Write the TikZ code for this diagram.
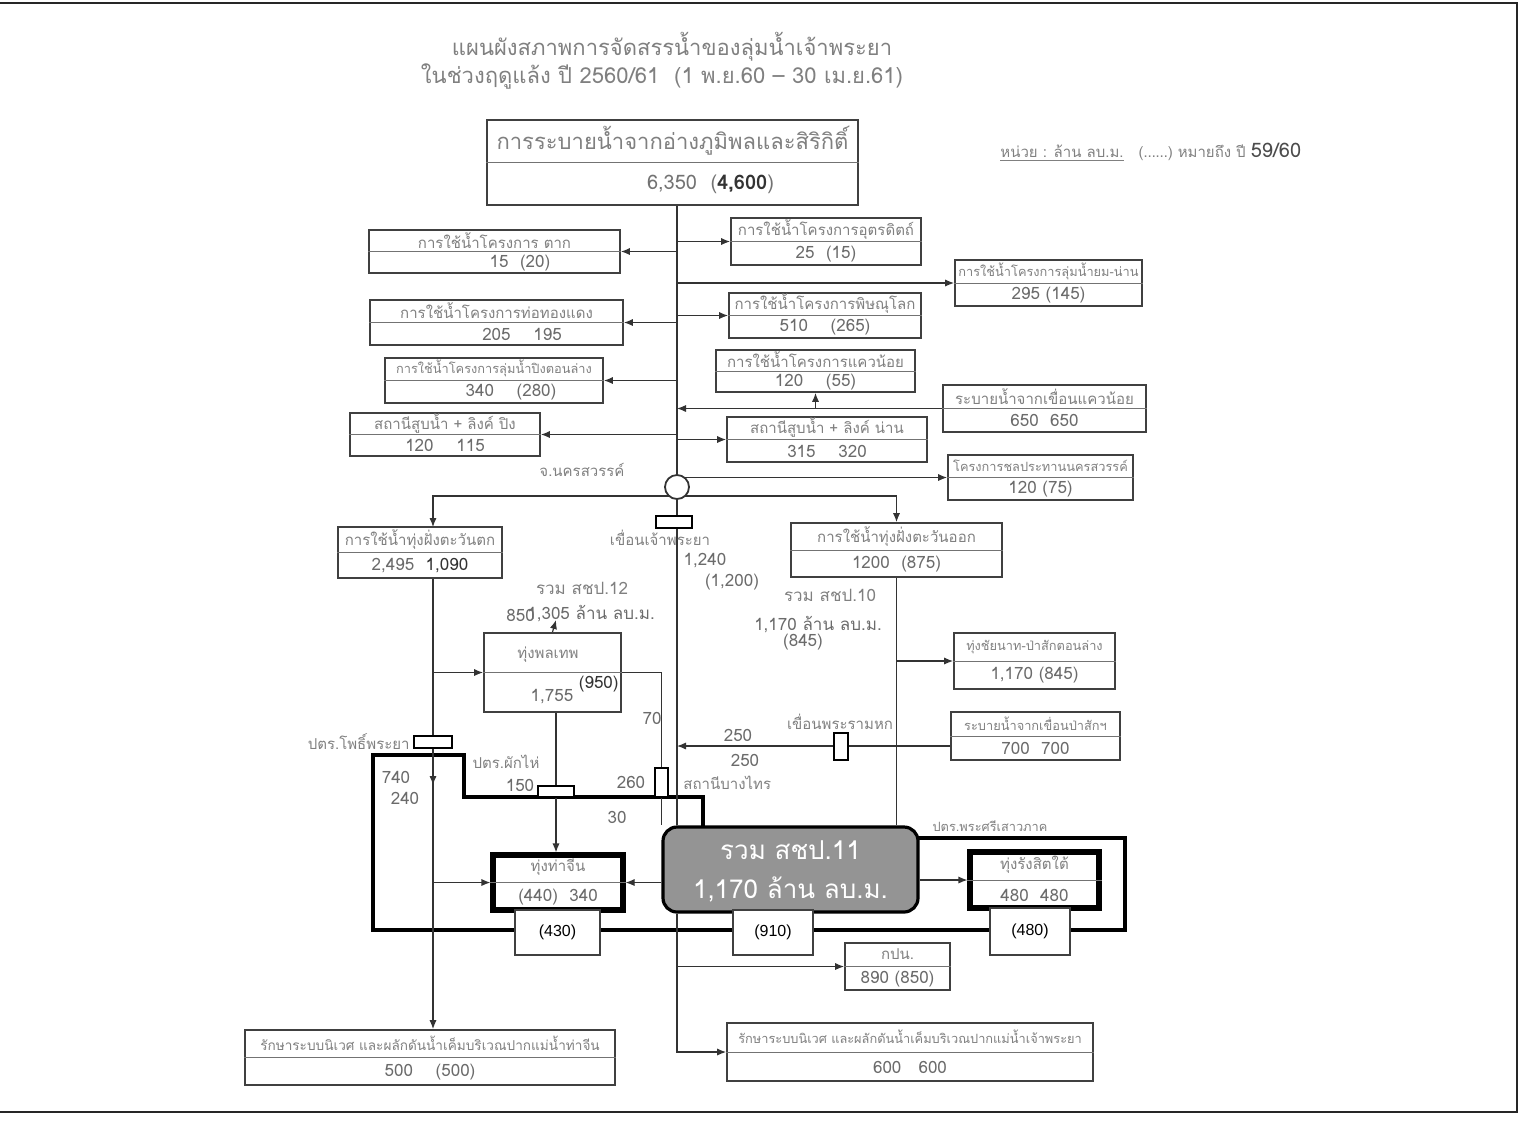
\documentclass[tikz,border=0pt]{standalone}
\usepackage{fontspec}
\setmainfont{Loma}[Script=Thai]
\newfontfamily\latf{Liberation Sans}
\usetikzlibrary{arrows.meta,calc,backgrounds}
\newcommand\smt{\fontsize{6.4}{7}\selectfont}
\tikzset{
  tb/.style={draw=black!75, line width=0.9pt, fill=white, inner sep=0pt, rectangle},
  tbk/.style={draw=black, line width=2.6pt, fill=white, inner sep=0pt, rectangle},
  sep/.style={draw=black!55, line width=0.5pt},
  ttl/.style={font=\fontsize{7.5}{8}\selectfont, text=black!50, inner sep=0pt},
  val/.style={font=\fontsize{8.5}{9}\selectfont, text=black!58, inner sep=0pt},
  lbl/.style={font=\fontsize{7.5}{8}\selectfont, text=black!50, inner sep=0pt},
  num/.style={font=\fontsize{8.5}{9}\selectfont, text=black!58, inner sep=0pt},
  ln/.style={draw=black!80, line width=0.6pt},
  arr/.style={ln, -{Latex[length=4.5pt,width=3.6pt]}},
  gate/.style={draw=black, line width=1pt, fill=white, inner sep=0pt, rectangle},
  pbox/.style={draw=black!75, line width=0.8pt, fill=white, inner sep=0pt, font=\latf\fontsize{8}{9}\selectfont},
  thickline/.style={draw=black, line width=2.4pt, line join=miter},
}
% two-part box: [opts]{name}{x,y}{w}{h}{title}{value}
\newcommand\tbox[7][tb]{%
  \node[#1, minimum width=#4*0.5pt, minimum height=#5*0.5pt] (#2) at (#3) {};
  \draw[sep] (#2.west) -- (#2.east);
  \node[ttl] (#2-t) at ($(#2.center)!0.5!(#2.north)$) {#6};
  \node[val] (#2-v) at ($(#2.center)!0.5!(#2.south)$) {#7};}
\begin{document}
\begin{tikzpicture}[x=0.5pt,y=-0.5pt]
\useasboundingbox (0,0) rectangle (1525,1142);
% page frame
\draw[black!85, line width=1pt] (0,3) -- (1517,3) -- (1517,1112) -- (0,1112);

% titles
\node[font=\fontsize{11}{12}\selectfont, text=black!50] (title1) at (672,47) {แผนผังสภาพการจัดสรรน้ำของลุ่มน้ำเจ้าพระยา};
\node[font=\fontsize{11}{12}\selectfont, text=black!50] (title2) at (662,76) {ในช่วงฤดูแล้ง ปี 2560/61 \ (1 พ.ย.60 -- 30 เม.ย.61)};
\node[lbl, anchor=west] (unit) at (1000,152) {\underline{หน่วย : ล้าน ลบ.ม.}\quad (……) หมายถึง ปี {\fontsize{10}{11}\selectfont\color{black!70}59/60}};

% top box
\node[tb, minimum width=185.5pt, minimum height=42.5pt] (top) at (672.5,162.5) {};
\draw[sep] (top.west) -- (top.east);
\node[font=\fontsize{11}{12}\selectfont, text=black!50, inner sep=0pt] (top-t) at ($(top.center)!0.5!(top.north)$) {การระบายน้ำจากอ่างภูมิพลและสิริกิติ์};
\node[font=\fontsize{10}{11}\selectfont, text=black!55, inner sep=0pt] (top-v) at ($(top.center)!0.5!(top.south)+(38,0)$) {6,350 \ ({\color{black!80}\bfseries 4,600})};

% upper boxes
\tbox{L1}{494.5,251.5}{251}{43}{การใช้น้ำโครงการ ตาก}{\hspace*{3em}15 \ (20)}
\tbox{R1}{826,241.5}{190}{47}{การใช้น้ำโครงการอุตรดิตถ์}{25 \ (15)}
\tbox{RF1}{1048.5,283}{187}{46}{\smt การใช้น้ำโครงการลุ่มน้ำยม-น่าน}{295 (145)}
\tbox{L2}{496.5,322.5}{253}{45}{การใช้น้ำโครงการท่อทองแดง}{\hspace*{3em}205 \quad 195}
\tbox{R2}{825,315.5}{192}{45}{การใช้น้ำโครงการพิษณุโลก}{510 \quad (265)}
\tbox{R3}{815.5,371}{199}{42}{การใช้น้ำโครงการแควน้อย}{120 \quad (55)}
\tbox{L3}{494,380.5}{218}{45}{\smt การใช้น้ำโครงการลุ่มน้ำปิงตอนล่าง}{\hspace*{2em}340 \quad (280)}
\tbox{RF2}{1044.5,408.5}{203}{47}{ระบายน้ำจากเขื่อนแควน้อย}{650 \ 650}
\tbox{L4}{445,434.5}{190}{43}{สถานีสูบน้ำ + ลิงค์ ปิง}{120 \quad 115}
\tbox{R4}{827,439.5}{200}{45}{สถานีสูบน้ำ + ลิงค์ น่าน}{315 \quad 320}
\tbox{RF3}{1040.5,477.5}{185}{45}{\smt โครงการชลประทานนครสวรรค์}{120 (75)}

% circle and dam
\node[draw=black!80, line width=0.9pt, fill=white, circle, minimum size=12pt, inner sep=0pt] (C) at (677,487) {};
\node[gate, minimum width=18pt, minimum height=6pt] (G1) at (674,522) {};
\node[lbl] (lnsw) at (582,470) {จ.นครสวรรค์};
\node[lbl] (lcp) at (660,538) {เขื่อนเจ้าพระยา};

% middle boxes
\tbox{LW}{420,552.5}{164}{51}{การใช้น้ำทุ่งฝั่งตะวันตก}{2,495 \ {\color{black!80}1,090}}
\tbox{RE}{896.5,550}{211}{54}{การใช้น้ำทุ่งฝั่งตะวันออก}{1200 \ (875)}
\node[num] (n1240) at (705,561) {1,240};
\node[num] (n1200) at (732,582) {(1,200)};
\node[lbl, font=\fontsize{8.5}{9}\selectfont] (s12) at (582,588) {รวม สชป.12};
\node[num, anchor=west] (n850) at (506,615) {850};
\node[num, anchor=west] (n1305) at (527,614) {1,305 ล้าน ลบ.ม.};
\node[lbl, font=\fontsize{8.5}{9}\selectfont] (s10) at (830,595) {รวม สชป.10};
\node[num] (n1170) at (818,625) {1,170 ล้าน ลบ.ม.};
\node[num] (n845) at (803,642) {(845)};

\node[tb, minimum width=68.5pt, minimum height=39.5pt] (B1755) at (552.5,672.5) {};
\draw[sep] (B1755.west) -- (B1755.east);
\node[ttl] (B1755-t) at (548,655) {ทุ่งพลเทพ};
\node[num] (B1755-a) at (552,697) {1,755};
\node[num, text=black!80, anchor=east] (B1755-b) at (619,684) {(950)};

\tbox{RE2}{1034.5,661}{161}{56}{\smt ทุ่งชัยนาท-ป่าสักตอนล่าง}{1,170 (845)}
\tbox{RP}{1035.5,736}{169}{48}{\smt ระบายน้ำจากเขื่อนป่าสักฯ}{700 \ 700}

% gates
\node[gate, minimum width=19pt, minimum height=6pt] (G2) at (433,742) {};
\node[gate, minimum width=18pt, minimum height=5.5pt] (G3) at (556,791) {};
\node[gate, minimum width=6.5pt, minimum height=14.5pt] (G4) at (661.5,782) {};
\node[gate, minimum width=7pt, minimum height=13.5pt] (G5) at (841,746) {};
\node[lbl, anchor=east] (lg2) at (410,742) {ปตร.โพธิ์พระยา};
\node[lbl] (lg3) at (506,762) {ปตร.ผักไห่};
\node[lbl, anchor=west] (lg4) at (683,783) {สถานีบางไทร};
\node[lbl] (lg5) at (840,722) {เขื่อนพระรามหก};
\node[num] (n70) at (652,718) {70};
\node[num] (n250a) at (738,735) {250};
\node[num] (n250b) at (745,760) {250};
\node[num] (n740) at (396,777) {740};
\node[num] (n240) at (405,798) {240};
\node[num] (n150) at (520,785) {150};
\node[num] (n260) at (631,782) {260};
\node[num] (n30) at (617,817) {30};
\node[lbl, font=\smt] (lg6) at (990,826) {ปตร.พระศรีเสาวภาค};

% lower section
\tbox[tbk]{TL}{558,882.5}{130}{55}{ทุ่งท่าจีน}{(440) \ 340}
\tbox[tbk]{TR}{1034.5,880}{129}{56}{ทุ่งรังสิตใต้}{480 \ 480}
\node[draw=black, line width=1.6pt, fill=black!42, rounded corners=7pt, minimum width=127.5pt, minimum height=42.5pt, inner sep=0pt] (gray) at (790.5,869.5) {};
\node[text=white, font=\fontsize{13}{14}\selectfont] (gray-a) at (790.5,850) {รวม สชป.11};
\node[text=white, font=\fontsize{13}{14}\selectfont] (gray-b) at (790.5,889) {1,170 ล้าน ลบ.ม.};
\node[pbox, minimum width=42.5pt, minimum height=22.5pt] (p430) at (557.5,932.5) {(430)};
\node[pbox, minimum width=40pt, minimum height=22.5pt] (p910) at (773,932.5) {(910)};
\node[pbox, minimum width=40pt, minimum height=23.5pt] (p480) at (1030,931.5) {(480)};
\tbox{KPN}{897.5,966.5}{105}{47}{กปน.}{890 (850)}
\tbox{BL}{430,1057.5}{370}{55}{\fontsize{6.8}{7}\selectfont รักษาระบบนิเวศ และผลักดันน้ำเค็มบริเวณปากแม่น้ำท่าจีน}{500 \quad (500)}
\tbox{BR}{910,1052}{366}{58}{\smt รักษาระบบนิเวศ และผลักดันน้ำเค็มบริเวณปากแม่น้ำเจ้าพระยา}{600 \ \ 600}

\coordinate (sp) at (677,496);
\coordinate (lwin) at (433,527);
\coordinate (up850) at (556,620);

\begin{scope}[on background layer]
% thick boundary
\draw[thickline] (703,840) -- (703,797) -- (464,797) -- (464,755) -- (373,755) -- (373,930) -- (1125,930) -- (1125,838) -- (910,838);
% trunk and branches
\draw[ln] (top.south -| C) -- (C.north);
\draw[arr] (L1.east -| C) -- (L1.east);
\draw[arr] (R1.west -| C) -- (R1.west);
\draw[arr] (RF1.west -| C) -- (RF1.west);
\draw[arr] (L2.east -| C) -- (L2.east);
\draw[arr] (R2.west -| C) -- (R2.west);
\draw[arr] (L3.east -| C) -- (L3.east);
\draw[arr] (RF2.west) -- (RF2.west -| C);
\draw[arr] (RF2.west -| R3.south) -- (R3.south);
\draw[arr] (L4.east -| C) -- (L4.east);
\draw[arr] (R4.west -| C) -- (R4.west);
\draw[arr] (RF3.west -| C) -- (RF3.west);
\draw[arr] (sp) -| (lwin);
\draw[arr] (sp) -| (RE.north);
\draw[ln] (C.south) -- (G1.north -| C);
\draw[ln] (G1.south -| C) -- (gray.north -| C);
\draw[ln] (gray.south -| C) -- (KPN.west -| C);
\draw[arr] (KPN.west -| C) -- (KPN.west);
\draw[arr] (gray.south -| C) |- (BR.west);
% left column
\draw[ln] (LW.south -| lwin) -- (G2.north);
\draw[arr] (G2.south) -- ++(0,36);
\draw[arr] (G2.south) -- (BL.north -| G2.south);
\draw[arr] (B1755.west -| G2) -- (B1755.west);
\draw[arr] (TL.west -| G2) -- (TL.west);
% box 1755
\draw[arr] (B1755.north) -- (up850);
\draw[ln] (B1755.east) -| (G4.north);
\draw[ln] (G4.south) -- (G4.south |- gray.north);
\draw[ln] (G3.north |- B1755.south) -- (G3.north);
\draw[arr] (G3.south) -- (TL.north -| G3.south);
% right column
\draw[ln] (RE.south) -- (RE.south |- gray.north);
\draw[arr] (RE2.west -| RE.south) -- (RE2.west);
\draw[ln] (G5.east -| RP.west) -- (G5.east);
\draw[arr] (G5.west) -- (G5.west -| C);
% grey box outputs
\draw[arr] (gray.west |- TL.east) -- (TL.east);
\draw[arr] (gray.east |- TR.west) -- (TR.west);
\end{scope}
\end{tikzpicture}
\end{document}
